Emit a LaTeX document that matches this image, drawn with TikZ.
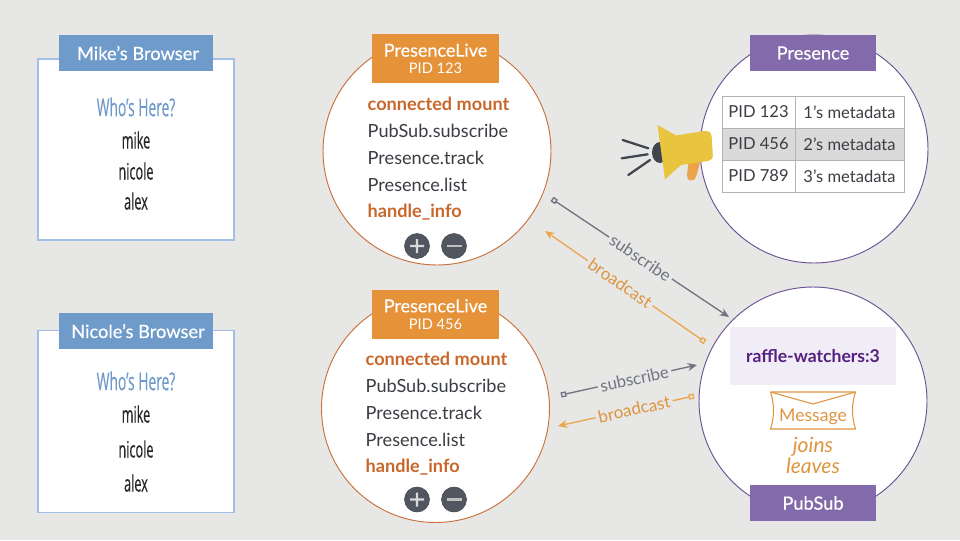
\documentclass[tikz,border=0pt]{standalone}
\usepackage{fontspec}
\setmainfont{Lato}
\newfontfamily\narrowfont[FakeStretch=0.56,FakeBold=0.25]{Open Sans}
\newfontfamily\medfont[FakeBold=0.35]{Lato}
\usetikzlibrary{arrows.meta}
\definecolor{bg}{HTML}{E7E7E6}
\definecolor{blue1}{HTML}{6F9BCB}
\definecolor{blueline}{HTML}{A3BFE4}
\definecolor{orange1}{HTML}{E59239}
\definecolor{orangeline}{HTML}{C8703A}
\definecolor{rust}{HTML}{C9672A}
\definecolor{purple1}{HTML}{836BAB}
\definecolor{purpleline}{HTML}{6A5294}
\definecolor{deep}{HTML}{55207F}
\definecolor{lilac}{HTML}{F0EDF7}
\definecolor{greyline}{HTML}{6F7480}
\definecolor{amber}{HTML}{EBA64F}
\definecolor{msg}{HTML}{DE9540}
\definecolor{ink}{HTML}{3A3D42}
\definecolor{cellline}{HTML}{B3B3B3}
\definecolor{cellgrey}{HTML}{DADADA}
\definecolor{horn}{HTML}{E9C43F}
\definecolor{btn}{HTML}{515660}
\tikzset{
  x=0.75pt,y=-0.75pt,
  px/.style={font=\fontsize{#1}{#1}\selectfont},
  tbox/.style={fill=white,draw=blueline,line width=0.9pt},
  head/.style={minimum height=27pt,inner sep=0pt,text=white,font=\medfont\fontsize{13.7}{13.7}\selectfont},
  bluehead/.style={head,fill=blue1,minimum width=115.5pt},
  purphead/.style={head,fill=purple1,minimum width=95pt},
  livehead/.style={fill=orange1,minimum width=95pt,minimum height=36.75pt,inner sep=0pt,text=white,align=center},
  livecirc/.style={circle,fill=white,draw=orangeline,line width=0.7pt,minimum size=171pt,inner sep=0pt},
  purpcirc/.style={circle,fill=white,draw=purpleline,line width=0.7pt,minimum size=171pt,inner sep=0pt},
  who/.style={text=blue1,font=\narrowfont\fontsize{18.5}{18.5}\selectfont},
  user/.style={text=black!85,font=\narrowfont\fontsize{17}{17}\selectfont},
  step1/.style={anchor=west,px=13.6,text=ink},
  stepb/.style={anchor=west,font=\fontsize{13.6}{13.6}\selectfont\bfseries,text=rust},
  cell/.style={draw=cellline,line width=0.7pt,minimum height=24pt,inner sep=0pt,px=12.4,text=ink},
  conn/.style={line width=1pt},
  subs/.style={conn,draw=greyline,{Square[open,length=4pt,width=4pt]}-{Stealth[length=7pt,width=6pt]}},
  bcast/.style={conn,draw=amber,{Square[open,length=4pt,width=4pt]}-{Stealth[length=7pt,width=6pt]}},
  sublab/.style={sloped,fill=bg,inner sep=2pt,text=greyline,px=12.6},
  brolab/.style={sloped,fill=bg,inner sep=2pt,text=msg,px=12.8},
  roundbtn/.style={circle,fill=btn,minimum size=18.75pt,inner sep=0pt,draw=btn!80!black,line width=0.4pt},
}
\begin{document}
\begin{tikzpicture}
\useasboundingbox (0,0) rectangle (960,540);
\fill[bg] (0,0) rectangle (960,540);

% Browsers
\node[tbox,minimum width=147pt,minimum height=135.75pt,inner sep=0pt] (mikebox) at (136,149.5) {};
\node[bluehead,text depth=0pt] (mikehead) at (136,53) {\hspace{3pt}Mike’s Browser};
\node[who] (mikewho) at (136,107) {Who’s Here?};
\node[user] (m1) at (136,140) {mike};
\node[user] (m2) at (136,171) {nicole};
\node[user] (m3) at (136,201) {alex};

\node[tbox,minimum width=147pt,minimum height=136.5pt,inner sep=0pt] (nicbox) at (136,421.5) {};
\node[bluehead,text depth=0pt] (nichead) at (136,331) {\hspace{3pt}Nicole’s Browser};
\node[who] (nicwho) at (136,381) {Who’s Here?};
\node[user] (n1) at (136,414) {mike};
\node[user] (n2) at (136,449) {nicole};
\node[user] (n3) at (136,483) {alex};

% Live view 1
\node[livecirc] (live1) at (437,151) {};
\node[livehead] (live1head) at (435.5,58.5) {\medfont\fontsize{13.5}{15}\selectfont PresenceLive\\[0.5pt]\fontsize{11}{12}\selectfont PID 123};
\node[stepb] (a1) at (363,104) {connected mount};
\node[step1] (a2) at (363,131) {PubSub.subscribe};
\node[step1] (a3) at (363,158) {Presence.track};
\node[step1] (a4) at (363,185) {Presence.list};
\node[stepb] (a5) at (363,212) {handle\_info};
\node[roundbtn] (a6) at (417,246) {};
\node[roundbtn] (a7) at (454,246) {};
\fill[white!85!black] (410,244.8) rectangle (424,247.2) (415.8,239) rectangle (418.2,253);
\fill[white!75!black] (446.5,244.8) rectangle (461.5,247.2);

% Live view 2
\node[livecirc] (live2) at (435.5,408.5) {};
\node[livehead] (live2head) at (435.5,314.5) {\medfont\fontsize{13.5}{15}\selectfont PresenceLive\\[1pt]\fontsize{11}{12}\selectfont PID 456};
\node[stepb] (b1) at (361,359) {connected mount};
\node[step1] (b2) at (361,386) {PubSub.subscribe};
\node[step1] (b3) at (361,413) {Presence.track};
\node[step1] (b4) at (361,440) {Presence.list};
\node[stepb] (b5) at (361,467) {handle\_info};
\node[roundbtn] (b6) at (417,499.5) {};
\node[roundbtn] (b7) at (454,499.5) {};
\fill[white!85!black] (410,498.3) rectangle (424,500.7) (415.8,492.5) rectangle (418.2,506.5);
\fill[white!75!black] (446.5,498.3) rectangle (461.5,500.7);

% Presence
\node[purpcirc] (pres) at (814,149) {};
\node[purphead] (preshead) at (813,53) {Presence};
\foreach \r/\y/\f/\p/\m in {1/112/white/PID 123/1’s metadata,2/144/cellgrey/PID 456/2’s metadata,3/176/white/PID 789/3’s metadata}{
  \node[cell,fill=\f,minimum width=54.75pt] (p\r) at (758.5,\y) {\p};
  \node[cell,fill=\f,minimum width=81.75pt] (q\r) at (849.5,\y) {\m};
}

% Megaphone
\fill[amber!95!orange,rounded corners=3pt] (689,158) -- (701,158) -- (696,178) -- (692,181.5) -- (686.5,179) -- cycle;
\fill[btn!80!black] (660,152.5) ellipse (8 and 10.5);
\fill[horn] (657.5,125) -- (676,135.5) -- (704,131)
   .. controls (709,130.5) and (711.5,132.5) .. (711.7,137)
   -- (712.8,155) .. controls (713,158.5) and (711,160.5) .. (708,161)
   -- (681,165) -- (665,179.5) -- cycle;
\draw[btn!80!black,line width=1.7pt,line cap=round] (622.7,140) -- (648.3,148.3) (621.7,158.3) -- (647.7,154.3) (628.3,175) -- (650,160);

% PubSub
\node[purpcirc] (pub) at (813,401) {};
\node[purphead] (pubhead) at (813,503) {PubSub};
\node[fill=lilac,minimum width=125pt,minimum height=43pt,inner sep=0pt,text=deep,font=\fontsize{13.2}{13.2}\selectfont\bfseries] (topic) at (813,356) {raffle-watchers:3};
\coordinate (e1) at (770.5,392);
\coordinate (e2) at (855.5,392);
\coordinate (e3) at (855.5,429);
\coordinate (e4) at (770.5,429);
\node[text=msg,px=13.2,inner sep=0pt] (msgtxt) at (813,416.5) {Message};
\draw[msg,line width=0.8pt,line join=round] (e1) -- (e2)
  .. controls (851.5,404) and (851.5,417) .. (e3) -- (e4)
  .. controls (774.5,417) and (774.5,404) .. (e1);
\coordinate (fold) at (813,404);
\draw[msg,line width=0.8pt,line join=round] (e1) -- (fold) -- (e2);
\node[text=msg,inner sep=0pt,font=\fontsize{15.8}{15.8}\selectfont\itshape] (joins) at (813,447) {joins};
\node[text=msg,inner sep=0pt,font=\fontsize{15.8}{15.8}\selectfont\itshape] (leaves) at (813,466) {leaves};

% Connectors
\coordinate (s1a) at (552,199);
\coordinate (s1b) at (729,317);
\coordinate (b1a) at (705,342);
\coordinate (b1b) at (545,231);
\coordinate (s2a) at (561,395);
\coordinate (s2b) at (697,365);
\coordinate (b2a) at (694,396);
\coordinate (b2b) at (558,426);
\draw[subs] (s1a) -- node[sublab,pos=0.5] {subscribe} (s1b);
\draw[bcast] (b1a) -- node[brolab,pos=0.53] {broadcast} (b1b);
\draw[subs] (s2a) -- node[sublab,pos=0.54] {subscribe} (s2b);
\draw[bcast] (b2a) -- node[brolab,pos=0.44] {broadcast} (b2b);
\end{tikzpicture}
\end{document}
